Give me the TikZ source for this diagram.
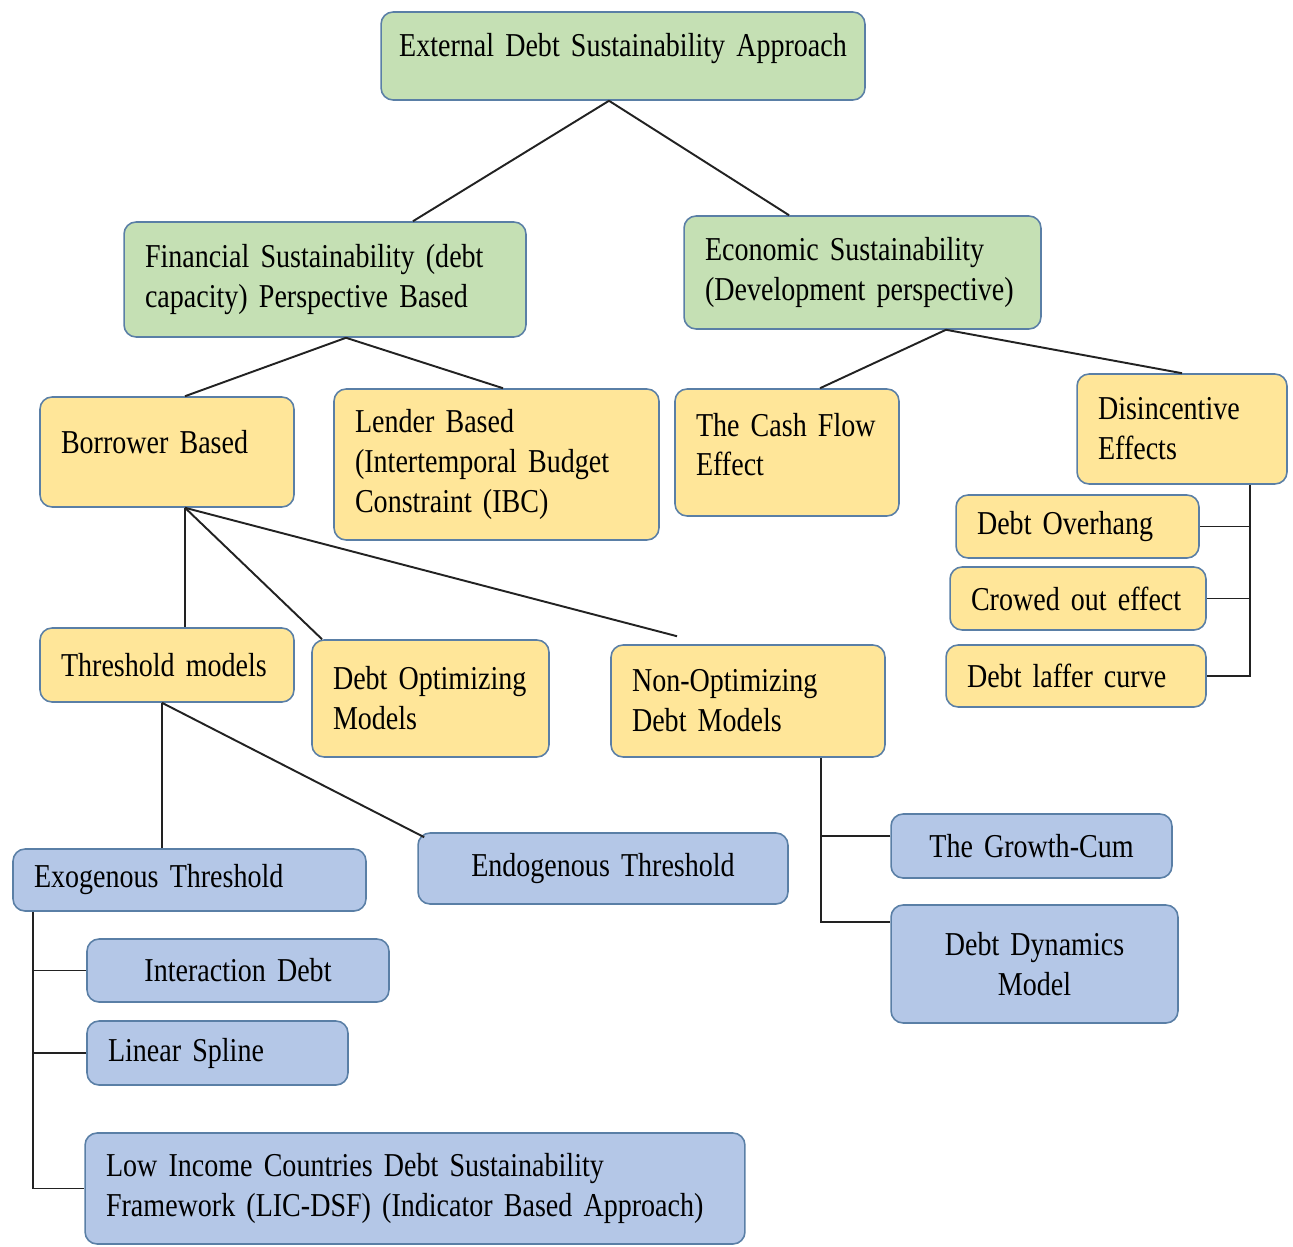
\documentclass[tikz,border=0pt]{standalone}
\usepackage{fontspec}
\setmainfont{Liberation Serif}[FakeStretch=0.84]
\usepackage{tikz}
\usetikzlibrary{positioning}
\definecolor{edsVerde}{HTML}{C5E0B4}
\definecolor{edsAmarillo}{HTML}{FFE699}
\definecolor{edsAzul}{HTML}{B4C7E7}
\definecolor{edsBorde}{HTML}{5A7FA6}
\definecolor{edsLinea}{HTML}{222222}
\DeclareRobustCommand\edsfont{\fontsize{19}{22.7}\selectfont\spaceskip=0.19em\relax}
\begin{document}
\begin{tikzpicture}[x=0.02cm, y=-0.02cm,
      b/.style={rounded corners=0.24cm, draw=edsBorde, line width=0.9pt, fill=#1,
                inner xsep=0.42cm, inner ysep=0pt, align=left, font=\edsfont},
      wh/.style 2 args={text width=#1cm, minimum height=#2cm},
      c/.style={align=center},
      ln/.style={draw=edsLinea, line width=1.1pt}]
    \useasboundingbox (0,0) rectangle (1293,1246);
    \node[b=edsVerde,wh={9.20}{1.76},c,inner xsep=0.24cm,text depth=0.45cm] (ext) at (623,56)
        {External Debt Sustainability Approach};
    \node[b=edsVerde,wh={7.20}{2.30}]   (fin)  at (325,279.5) {Financial Sustainability (debt\\capacity) Perspective Based};
    \node[b=edsVerde,wh={6.30}{2.26}]   (eco)  at (862.5,272.5) {Economic Sustainability\\(Development perspective)};
    \node[b=edsAmarillo,wh={4.24}{2.20},text depth=0.4cm] (bor) at (167,452) {Borrower Based};
    \node[b=edsAmarillo,wh={5.66}{3.02}] (len)  at (496.5,464.5) {Lender Based\\(Intertemporal Budget\\Constraint (IBC)};
    \node[b=edsAmarillo,wh={3.64}{2.54},text depth=1.12cm] (cash) at (787,452.5) {The Cash Flow\\Effect};
    \node[b=edsAmarillo,wh={3.36}{2.20}] (dis)  at (1182,429)  {Disincentive\\Effects};
    \node[b=edsAmarillo,wh={4.02}{1.26}] (ovh)  at (1077.5,526.5) {Debt Overhang};
    \node[b=edsAmarillo,wh={4.28}{1.26}] (crow) at (1078,598.5) {Crowed out effect};
    \node[b=edsAmarillo,wh={4.36}{1.24}] (laf)  at (1076,676)  {Debt laffer curve};
    \node[b=edsAmarillo,wh={4.24}{1.48}] (thr)  at (167,665)   {Threshold models};
    \node[b=edsAmarillo,wh={3.90}{2.34}] (opt)  at (430.5,698.5) {Debt Optimizing\\Models};
    \node[b=edsAmarillo,wh={4.64}{2.24}] (nopt) at (748,701)   {Non-Optimizing\\Debt Models};
    \node[b=edsAzul,wh={6.22}{1.24}]     (exo)  at (189.5,880) {Exogenous Threshold};
    \node[b=edsAzul,wh={6.56}{1.42},c]   (endo) at (603,868.5) {Endogenous Threshold};
    \node[b=edsAzul,wh={4.78}{1.28},c]   (gro)  at (1031.5,846) {The Growth-Cum};
    \node[b=edsAzul,wh={4.90}{2.36},c]   (dyn)  at (1034.5,964) {Debt Dynamics\\Model};
    \node[b=edsAzul,wh={5.20}{1.26},c]   (int)  at (238,970.5) {Interaction Debt};
    \node[b=edsAzul,wh={4.38}{1.28}]     (spl)  at (217.5,1053) {Linear Spline};
    \node[b=edsAzul,wh={12.36}{2.22}]    (lic)  at (415,1188.5) {Low Income Countries Debt Sustainability\\Framework (LIC-DSF) (Indicator Based Approach)};
    \draw[ln] ([xshift=-0.28cm]ext.south) -- ([xshift=1.76cm]fin.north);
    \draw[ln] ([xshift=-0.28cm]ext.south) -- ([xshift=-1.47cm]eco.north);
    \draw[ln] ([xshift=0.42cm]fin.south) -- ([xshift=0.36cm]bor.north);
    \draw[ln] ([xshift=0.42cm]fin.south) -- ([xshift=0.13cm]len.north);
    \draw[ln] ([xshift=1.67cm]eco.south) -- ([xshift=0.66cm]cash.north);
    \draw[ln] ([xshift=1.67cm]eco.south) -- (dis.north);
    \coordinate (disbus) at ([xshift=1.36cm]dis.south);
    \draw[ln] (disbus) |- (laf.east);
    \draw[ln] (ovh.east) -- (ovh.east -| disbus);
    \draw[ln] (crow.east) -- (crow.east -| disbus);
    \coordinate (borbus) at ([xshift=0.36cm]bor.south);
    \draw[ln] (borbus) -- (borbus |- thr.north);
    \draw[ln] (borbus) -- ([xshift=-2.17cm]opt.north);
    \draw[ln] (borbus) -- ([xshift=-1.42cm,yshift=0.16cm]nopt.north);
    \coordinate (thrbus) at ([xshift=-0.1cm]thr.south);
    \draw[ln] (thrbus) -- (thrbus |- exo.north);
    \draw[ln] (thrbus) -- ([xshift=0.14cm,yshift=-0.1cm]endo.north west);
    \coordinate (noptbus) at ([xshift=1.46cm]nopt.south);
    \draw[ln] (noptbus) |- ([yshift=0.84cm]dyn.west);
    \draw[ln] ([yshift=0.2cm]gro.west) -- ([yshift=0.2cm]gro.west -| noptbus);
    \coordinate (exobus) at ([xshift=-3.13cm]exo.south);
    \draw[ln] (exobus) |- (lic.west);
    \draw[ln] (int.west) -- (int.west -| exobus);
    \draw[ln] (spl.west) -- (spl.west -| exobus);
  \end{tikzpicture}
\end{document}
